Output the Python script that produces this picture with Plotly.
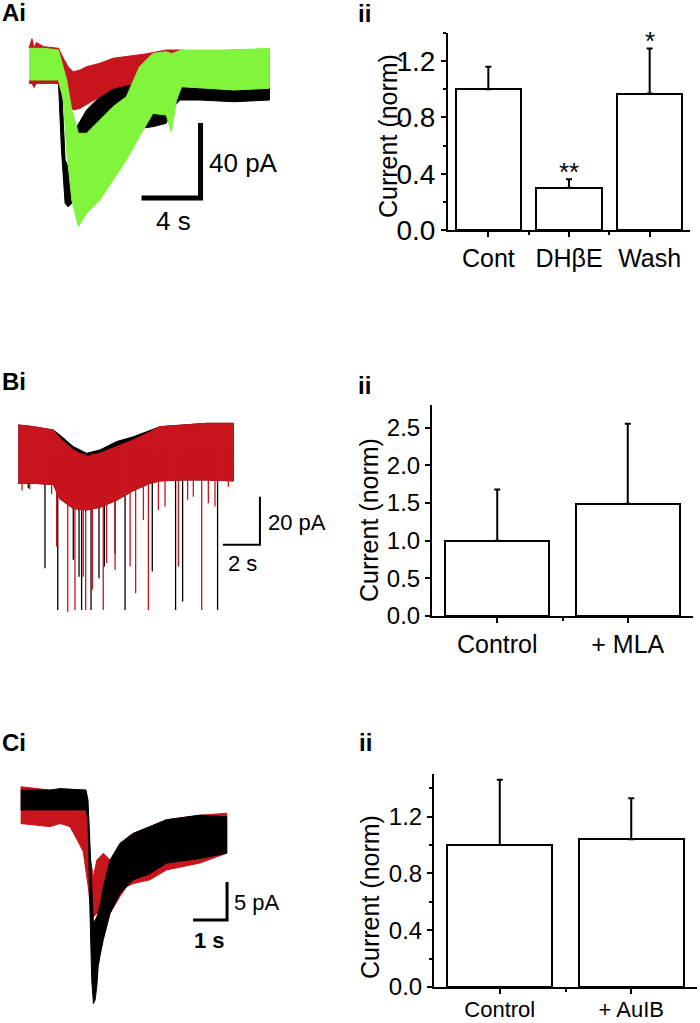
import plotly.graph_objects as go

W, H = 700, 1023          # reference size; all positions below are in reference pixels
FIG_H = 1039              # page is photographed 16 px taller and squeezed back to 1023
FONT = "Liberation Sans, Arial, sans-serif"
BLACK = "#000000"
RED = "#C8141C"
GREEN = "#80F53C"

# ---------------- Panel A traces (time in s, current in pA) ----------------
a_black_t = [0, 1.0, 2.0, 2.2, 2.45, 2.65, 2.9, 3.25, 3.9, 4.8, 5.7, 6.6, 7.5, 8.4, 9.3, 9.8, 10.25, 11.6, 13.9, 16.3]
a_black_hi = [8.9, 8.0, 8.0, -9.8, -50.7, -54.2, -45.3, -32.9, -24.0, -16.9, -12.4, -10.7, -8.9, -8.0, -6.2, -4.4, -0.9, 0.9, 1.8, 2.7]
a_black_lo = [-8.9, -8.9, -9.8, -45.3, -73.8, -75.6, -73.8, -64.9, -57.8, -50.7, -41.8, -36.4, -33.8, -32.9, -31.1, -22.2, -18.7, -18.7, -19.6, -18.7]

a_red_t = [0, 0.2, 0.35, 0.5, 1.0, 2.0, 2.33, 2.65, 3.0, 3.46, 3.9, 4.8, 5.7, 6.6, 7.5, 8.0, 9.3, 10.25, 11.6, 13.9, 16.3]
a_red_hi = [9.0, 14.0, 9.0, 12.0, 9.8, 8.9, 3.6, -0.9, -3.6, -2.7, -0.9, 0.9, 3.6, 4.4, 5.3, 6.0, 8.0, 8.0, 7.1, 8.0, 8.0]
a_red_lo = [-9.8, -9.8, -12.0, -9.8, -9.8, -9.8, -16.9, -20.4, -24.0, -23.1, -21.3, -16.9, -12.4, -10.7, -9.8, -9.0, -8.0, -9.8, -11.6, -13.3, -12.4]

a_green_t = [0, 1.0, 2.0, 2.33, 2.55, 2.9, 3.35, 3.9, 4.8, 5.7, 6.6, 7.5, 8.4, 9.3, 9.65, 10.0, 10.35, 11.6, 13.9, 16.3]
a_green_hi = [8.9, 8.9, 8.0, -0.9, -8.0, -24.0, -36.4, -36.4, -29.3, -22.2, -16.9, -0.9, 6.2, 7.1, 6.0, 7.1, 8.0, 8.0, 8.0, 8.9]
a_green_lo = [-8.0, -8.0, -8.0, -18.7, -45.3, -72.0, -86.2, -79.1, -72.0, -61.3, -50.7, -38.0, -25.8, -26.7, -35.6, -18.7, -11.6, -12.4, -13.3, -12.4]

a_scale_s, a_scale_pA = 4, 40

# ---------------- Panel B traces ----------------
b_t = [0, 0.81, 1.89, 2.25, 2.97, 3.69, 4.41, 5.32, 6.22, 7.12, 7.66, 8.92, 10.18, 11.62]
b_red_hi = [11.8, 11.1, 9.7, 6.2, 1.4, -1.4, 0.0, 2.8, 5.6, 9.0, 11.1, 11.8, 12.5, 12.5]
b_red_lo = [-12.5, -12.5, -13.0, -19.0, -23.0, -23.6, -22.5, -19.5, -15.5, -12.5, -11.5, -11.1, -11.1, -11.5]
b_black_hi = [11.8, 11.1, 9.7, 7.6, 2.8, 0.0, 1.4, 4.9, 6.9, 9.7, 11.1, 11.8, 12.5, 12.5]
b_black_lo = [-12.5, -12.5, -13.0, -19.0, -23.0, -23.6, -22.5, -19.5, -15.5, -12.5, -11.5, -11.1, -11.1, -11.5]

b_black_spike_t = [0.54, 1.44, 2.13, 2.97, 3.28, 3.42, 3.93, 4.36, 4.65, 5.23, 5.77, 7.24, 8.50, 8.88, 10.77]
b_black_spike_pA = [-14.6, -47.9, -65.3, -44.4, -51.4, -65.3, -65.3, -52.1, -47.2, -41.7, -65.3, -49.3, -65.3, -61.8, -65.3]
b_red_spike_t = [0.2, 0.62, 1.8, 2.07, 2.67, 3.06, 3.51, 3.64, 4.00, 4.59, 4.77, 5.23, 6.04, 6.34, 6.76,
                 7.03, 7.57, 7.93, 8.65, 9.15, 9.46, 9.91, 10.27, 10.63, 11.35]
b_red_spike_pA = [-15.5, -15.0, -17.0, -38.9, -66.0, -65.3, -51.4, -65.3, -56.9, -65.3, -45.8, -48.6, -47.2, -58.3, -27.8,
                  -65.3, -23.6, -22.2, -47.2, -19.4, -18.1, -65.3, -20.8, -22.2, -13.9]

b_scale_s, b_scale_pA = 2, 20

# ---------------- Panel C traces ----------------
c_black_t = [0, 0.86, 1.16, 1.92, 1.98, 2.04, 2.09, 2.14, 2.19, 2.24, 2.28, 2.33, 2.43, 2.48, 2.63, 2.92, 3.31, 3.80, 4.29, 5.27, 6.06]
c_black_hi = [1.3, 1.3, 1.5, 1.3, 0.0, -6.1, -12.7, -16.2, -15.8, -15.4, -14.7, -14.0, -11.4, -10.5, -7.9, -5.7, -4.4, -3.5, -2.6, -2.0, -2.2]
c_black_lo = [-1.3, -1.3, -1.3, -1.3, -2.6, -14.9, -23.7, -26.8, -26.3, -24.5, -21.9, -20.6, -18.4, -17.5, -14.9, -12.3, -10.5, -9.7, -8.3, -7.7, -7.0]

c_red_t = [0, 0.86, 1.16, 1.45, 1.75, 1.84, 1.92, 1.99, 2.04, 2.14, 2.24, 2.33, 2.43, 2.63, 2.92, 3.12, 3.31, 3.80, 4.29, 5.27, 6.06]
c_red_hi = [1.75, 1.3, 1.3, 1.3, 1.3, 1.3, 1.3, -2.0, -7.5, -10.1, -7.9, -7.5, -7.0, -7.9, -6.1, -5.0, -4.4, -3.5, -2.6, -2.0, -1.75]
c_red_lo = [-3.1, -3.5, -3.1, -3.5, -6.0, -6.8, -9.0, -11.5, -13.6, -15.4, -14.9, -14.7, -14.5, -14.9, -12.7, -11.4, -11.0, -10.5, -9.2, -8.3, -7.0]

c_scale_s, c_scale_pA = 1, 5

# ---------------- Bar charts ----------------
a_cats = ["Cont", "DHβE", "Wash"]
a_mean = [1.0, 0.30, 0.97]
a_sem = [0.16, 0.06, 0.32]
a_sig = ["", "**", "*"]

b_cats = ["Control", "+ MLA"]
b_mean = [1.0, 1.49]
b_sem = [0.68, 1.06]

c_cats = ["Control", "+ AuIB"]
c_mean = [1.0, 1.04]
c_sem = [0.46, 0.29]


def px(x):
    return x / W


def py(y):
    return 1 - y / H


fig = go.Figure()


def band(t, hi, lo, color, xa, ya):
    fig.add_trace(go.Scatter(
        x=list(t) + list(t)[::-1], y=list(hi) + list(lo)[::-1],
        mode="lines", fill="toself", fillcolor=color,
        line=dict(color=color, width=1), xaxis=xa, yaxis=ya,
        hoverinfo="skip", showlegend=False))


def spikes(t, amp, color, xa, ya, width=1.3):
    xs, ys = [], []
    for ti, ai in zip(t, amp):
        xs += [ti, ti, None]
        ys += [0, ai, None]
    fig.add_trace(go.Scatter(x=xs, y=ys, mode="lines",
                             line=dict(color=color, width=width),
                             xaxis=xa, yaxis=ya, hoverinfo="skip", showlegend=False))


def scalebar(corner_t, corner_i, ds, di, xa, ya, width):
    fig.add_trace(go.Scatter(x=[corner_t - ds, corner_t, corner_t],
                             y=[corner_i, corner_i, corner_i + di],
                             mode="lines", line=dict(color=BLACK, width=width),
                             xaxis=xa, yaxis=ya, hoverinfo="skip", showlegend=False))


# Panel A traces
band(a_black_t, a_black_hi, a_black_lo, BLACK, "x", "y")
band(a_red_t, a_red_hi, a_red_lo, RED, "x", "y")
band(a_green_t, a_green_hi, a_green_lo, GREEN, "x", "y")
scalebar(11.63, -70.9, a_scale_s, a_scale_pA, "x", "y", 5)

# Panel B traces
band(b_t, b_black_hi, b_black_lo, BLACK, "x3", "y3")
spikes(b_black_spike_t, b_black_spike_pA, BLACK, "x3", "y3")
band(b_t, b_red_hi, b_red_lo, RED, "x3", "y3")
spikes(b_red_spike_t, b_red_spike_pA, RED, "x3", "y3")
scalebar(13.06, -38.1, b_scale_s, b_scale_pA, "x3", "y3", 2)

# Panel C traces
band(c_red_t, c_red_hi, c_red_lo, RED, "x5", "y5")
band(c_black_t, c_black_hi, c_black_lo, BLACK, "x5", "y5")
scalebar(6.07, -15.8, c_scale_s, c_scale_pA, "x5", "y5", 3)


def bars(cats, mean, sem, xa, ya, width):
    fig.add_trace(go.Bar(
        x=list(range(len(cats))), y=mean, width=width,
        marker=dict(color="white", line=dict(color=BLACK, width=2)),
        error_y=dict(type="data", symmetric=False, array=sem,
                     arrayminus=[0] * len(sem), color=BLACK, thickness=2, width=3),
        xaxis=xa, yaxis=ya, hoverinfo="skip", showlegend=False))


bars(a_cats, a_mean, a_sem, "x2", "y2", 0.81)
bars(b_cats, b_mean, b_sem, "x4", "y4", 0.8)
bars(c_cats, c_mean, c_sem, "x6", "y6", 0.8)

hidden = dict(visible=False, fixedrange=True)


def trace_axes(n, x0, x1, y0, y1, trange, irange):
    fig.update_layout(**{
        f"xaxis{n}": dict(hidden, domain=[px(x0), px(x1)], range=trange,
                          anchor=f"y{n}" if n else "y"),
        f"yaxis{n}": dict(hidden, domain=[py(y1), py(y0)], range=irange,
                          anchor=f"x{n}" if n else "x"),
    })


trace_axes("", 0, 300, 0, 260, [-29 / 14.75, 271 / 14.75], [-(260 - 65) / 1.875, 65 / 1.875])
trace_axes(3, 0, 300, 340, 660, [-18.33 / 18.5, (300 - 18.33) / 18.5], [-(660 - 453.3) / 2.4, (453.3 - 340) / 2.4])
trace_axes(5, 0, 300, 680, 1023, [-20.67 / 34, (300 - 20.67) / 34], [-(1023 - 800) / 7.6, (800 - 680) / 7.6])


def bar_axes(n, cats, x0, x1, y0, y1, yrange, tickvals, ysize, xsize=25, xstand=0):
    fig.update_layout(**{
        f"xaxis{n}": dict(domain=[px(x0), px(x1)], range=[-0.5, len(cats) - 0.5],
                          anchor=f"y{n}", showline=True, linewidth=2, linecolor=BLACK,
                          ticks="outside", ticklen=5, tickwidth=2, tickcolor=BLACK,
                          tickvals=list(range(len(cats))), ticktext=cats,
                          tickfont=dict(family=FONT, size=xsize, color=BLACK),
                          ticklabelstandoff=xstand,
                          minor=dict(ticks="outside", ticklen=3, tickwidth=1.5, tickcolor=BLACK,
                                     tickvals=[i + 0.5 for i in range(len(cats) - 1)]),
                          showgrid=False, zeroline=False, fixedrange=True),
        f"yaxis{n}": dict(domain=[py(y1), py(y0)], range=yrange, anchor=f"x{n}",
                          showline=True, linewidth=2, linecolor=BLACK,
                          ticks="outside", ticklen=5, tickwidth=2, tickcolor=BLACK,
                          tickvals=tickvals, tickformat=".1f",
                          tickfont=dict(family=FONT, size=ysize, color=BLACK),
                          showgrid=False, zeroline=False, fixedrange=True),
    })


bar_axes(2, a_cats, 448, 690, 33, 230, [0, 1.4], [0, 0.4, 0.8, 1.2], 28)
bar_axes(4, b_cats, 432, 693, 405, 616, [0, 2.8], [0, 0.5, 1.0, 1.5, 2.0, 2.5], 24)
bar_axes(6, c_cats, 434, 697, 774, 987, [0, 1.5], [0, 0.4, 0.8, 1.2], 24, xsize=22, xstand=-3)
fig.update_layout(yaxis2_minor=dict(ticks="outside", ticklen=3, tickwidth=1.5, tickcolor=BLACK, dtick=0.2),
                  yaxis6_minor=dict(ticks="outside", ticklen=3, tickwidth=1.5, tickcolor=BLACK, dtick=0.2))

ann = []


def text(x, y, s, size, xanchor="left", bold=False, angle=0):
    ann.append(dict(x=px(x), y=py(y), xref="paper", yref="paper", text=f"<b>{s}</b>" if bold else s,
                    showarrow=False, xanchor=xanchor, yanchor="middle", textangle=angle,
                    font=dict(family=FONT, size=size, color=BLACK)))


# panel labels
text(0, 13, "Ai", 24, bold=True)
text(356, 14, "ii", 24, bold=True)
text(0, 381, "Bi", 24, bold=True)
text(356, 385, "ii", 24, bold=True)
text(0, 742, "Ci", 24, bold=True)
text(357, 742, "ii", 24, bold=True)

# scale bar labels
text(207, 163, "40 pA", 26)
text(173, 221, "4 s", 26, xanchor="center")
text(266, 522, "20 pA", 22)
text(242, 563, "2 s", 22, xanchor="center")
text(232, 902, "5 pA", 22)
text(209, 940, "1 s", 22, xanchor="center", bold=True)

# y titles
text(388, 136, "Current (norm)", 25, xanchor="center", angle=-90)
text(369, 520, "Current (norm)", 25, xanchor="center", angle=-90)
text(370, 897, "Current (norm)", 25, xanchor="center", angle=-90)

# significance stars
for i, s in enumerate(a_sig):
    if s:
        ann.append(dict(x=i, y=a_mean[i] + a_sem[i], xref="x2", yref="y2", text=s,
                        showarrow=False, xanchor="center", yanchor="bottom", yshift=-10,
                        font=dict(family=FONT, size=26, color=BLACK)))

fig.update_layout(width=W, height=FIG_H, margin=dict(l=0, r=0, t=0, b=0),
                  paper_bgcolor="white", plot_bgcolor="white",
                  showlegend=False, annotations=ann, bargap=0)

fig.write_html("out.html", config={"displayModeBar": False},
               post_script="}); document.documentElement.style.margin='0px'; "
                           "document.body.style.margin='0px'; document.body.style.overflow='hidden'; (function(){")
